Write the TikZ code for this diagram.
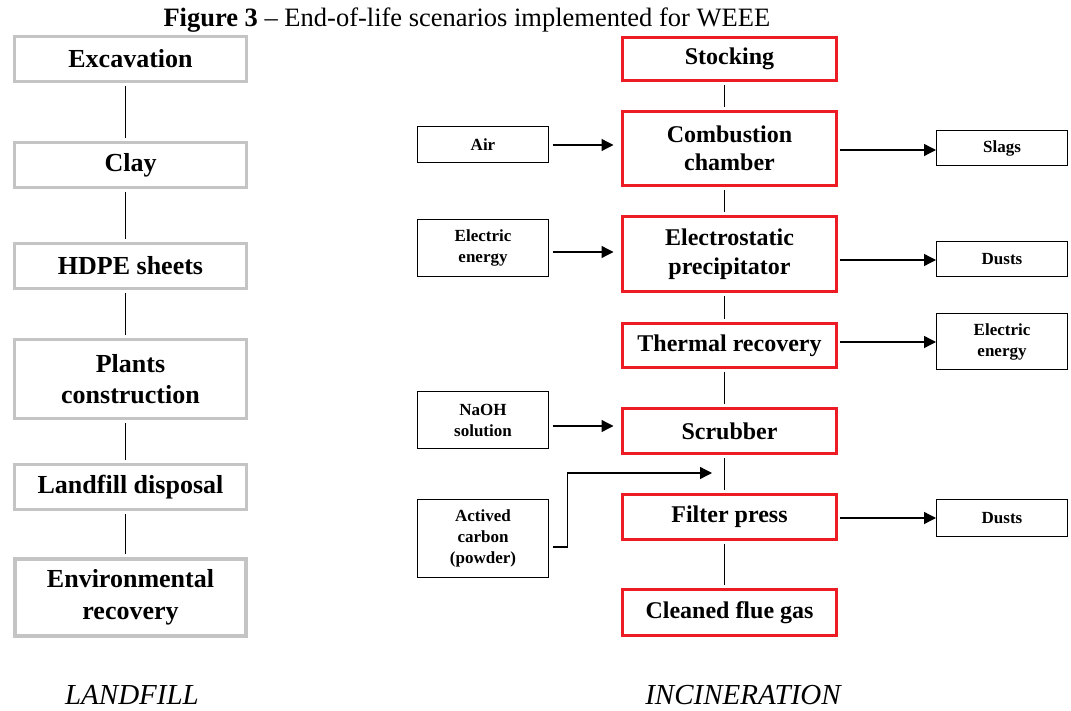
\documentclass[tikz,border=0pt]{standalone}
\usepackage{fontspec}
\setmainfont{Liberation Serif}
\usetikzlibrary{arrows.meta}
\definecolor{boxred}{RGB}{237,28,36}
\definecolor{boxgray}{RGB}{196,196,196}
\begin{document}
\begin{tikzpicture}[x=1pt,y=-1pt,
 graybox/.style={draw=boxgray,line width=3pt,minimum width=232pt,inner sep=0pt,align=center,font=\fontsize{26}{31.5}\selectfont\bfseries},
 redbox/.style={draw=boxred,line width=3pt,minimum width=214pt,inner sep=0pt,align=center,font=\fontsize{24}{28.5}\selectfont\bfseries},
 smallbox/.style={draw=black,line width=1.3pt,minimum width=130.7pt,inner sep=0pt,align=center,font=\fontsize{17}{21}\selectfont\bfseries},
 link/.style={line width=1.2pt,shorten <=3pt,shorten >=3pt},
 flow/.style={line width=1.3pt,-{Triangle[length=12pt,width=12pt]}},
 caption/.style={font=\fontsize{29}{34}\selectfont\itshape,anchor=base}
]
\useasboundingbox (0,0) rectangle (1071,711);
\node[anchor=base west,font=\fontsize{26.5}{30}\selectfont] (title) at (160,27) {\textbf{Figure 3} -- End-of-life scenarios implemented for WEEE};

% landfill column
\node[graybox,minimum height=45pt] (exc) at (130.5,59) {Excavation};
\node[graybox,minimum height=45pt] (clay) at (130.5,165) {Clay};
\node[graybox,minimum height=45pt] (hdpe) at (130.5,266) {HDPE sheets};
\node[graybox,minimum height=79pt] (plant) at (130.5,379) {Plants\\construction};
\node[graybox,minimum height=45pt] (ldisp) at (130.5,487) {Landfill disposal};
\node[graybox,line width=4pt,minimum height=77pt,minimum width=231pt] (envr) at (130.5,597.5) {Environmental\\recovery};
\foreach \a/\b in {exc/clay,clay/hdpe,hdpe/plant,plant/ldisp,ldisp/envr}
  \draw[link] ([xshift=-5pt]\a.south) -- ([xshift=-5pt]\b.north);

% incineration column
\node[redbox,minimum height=43pt] (stock) at (729.5,59) {Stocking};
\node[redbox,minimum height=74pt] (comb) at (729.5,148.5) {Combustion\\chamber};
\node[redbox,minimum height=75pt] (elec) at (729.5,254) {Electrostatic\\precipitator};
\node[redbox,minimum height=44pt] (therm) at (729.5,345.5) {Thermal recovery};
\node[redbox,minimum height=45pt] (scrub) at (729.5,431) {Scrubber};
\node[redbox,minimum height=45pt] (filt) at (729.5,517) {Filter press};
\node[redbox,minimum height=46pt] (clean) at (729.5,612.5) {Cleaned flue gas};
\foreach \a/\b in {stock/comb,comb/elec,elec/therm,therm/scrub,scrub/filt,filt/clean}
  \draw[link] ([xshift=-5pt]\a.south) -- ([xshift=-5pt]\b.north);

% inputs
\node[smallbox,minimum height=35.7pt] (air) at (483,144.5) {Air};
\node[smallbox,minimum height=56.7pt] (eleL) at (483,248) {Electric\\energy};
\node[smallbox,minimum height=56.7pt] (naoh) at (483,420) {NaOH\\solution};
\node[smallbox,minimum height=77.7pt] (act) at (483,538.5) {Actived\\carbon\\(powder)};

% outputs
\node[smallbox,minimum height=34.7pt] (slag) at (1002,148) {Slags};
\node[smallbox,minimum height=34.7pt] (dust1) at (1002,259) {Dusts};
\node[smallbox,minimum height=55.7pt] (eleR) at (1002,341.5) {Electric\\energy};
\node[smallbox,minimum height=36.7pt] (dust2) at (1002,518) {Dusts};

% input arrows
\coordinate (pA) at ([yshift=-0.5pt]air.east);
\coordinate (pE) at ([yshift=-4pt]eleL.east);
\coordinate (pN) at ([yshift=-6pt]naoh.east);
\draw[flow,shorten <=3.5pt,shorten >=7.5pt] (pA) -- (pA -| comb.west);
\draw[flow,shorten <=3.5pt,shorten >=7.5pt] (pE) -- (pE -| elec.west);
\draw[flow,shorten <=3.5pt,shorten >=7.5pt] (pN) -- (pN -| scrub.west);
\coordinate (pC) at ([yshift=-8.5pt]act.east);
\coordinate (mix) at (712,473);
\draw[flow,shorten <=3.5pt] (pC) -- ++(18.5,0) |- (mix);

% output arrows
\coordinate (oS) at ([yshift=-1.5pt]comb.east);
\coordinate (oD) at ([yshift=-6pt]elec.east);
\coordinate (oE) at ([yshift=3.5pt]therm.east);
\coordinate (oF) at ([yshift=-1pt]filt.east);
\draw[flow,shorten <=1.5pt] (oS) -- (oS -| slag.west);
\draw[flow,shorten <=1.5pt] (oD) -- (oD -| dust1.west);
\draw[flow,shorten <=1.5pt] (oE) -- (oE -| eleR.west);
\draw[flow,shorten <=1.5pt] (oF) -- (oF -| dust2.west);

% captions
\node[caption] (lf) at (132,704) {LANDFILL};
\node[caption] (inc) at (743,704) {INCINERATION};
\end{tikzpicture}
\end{document}
